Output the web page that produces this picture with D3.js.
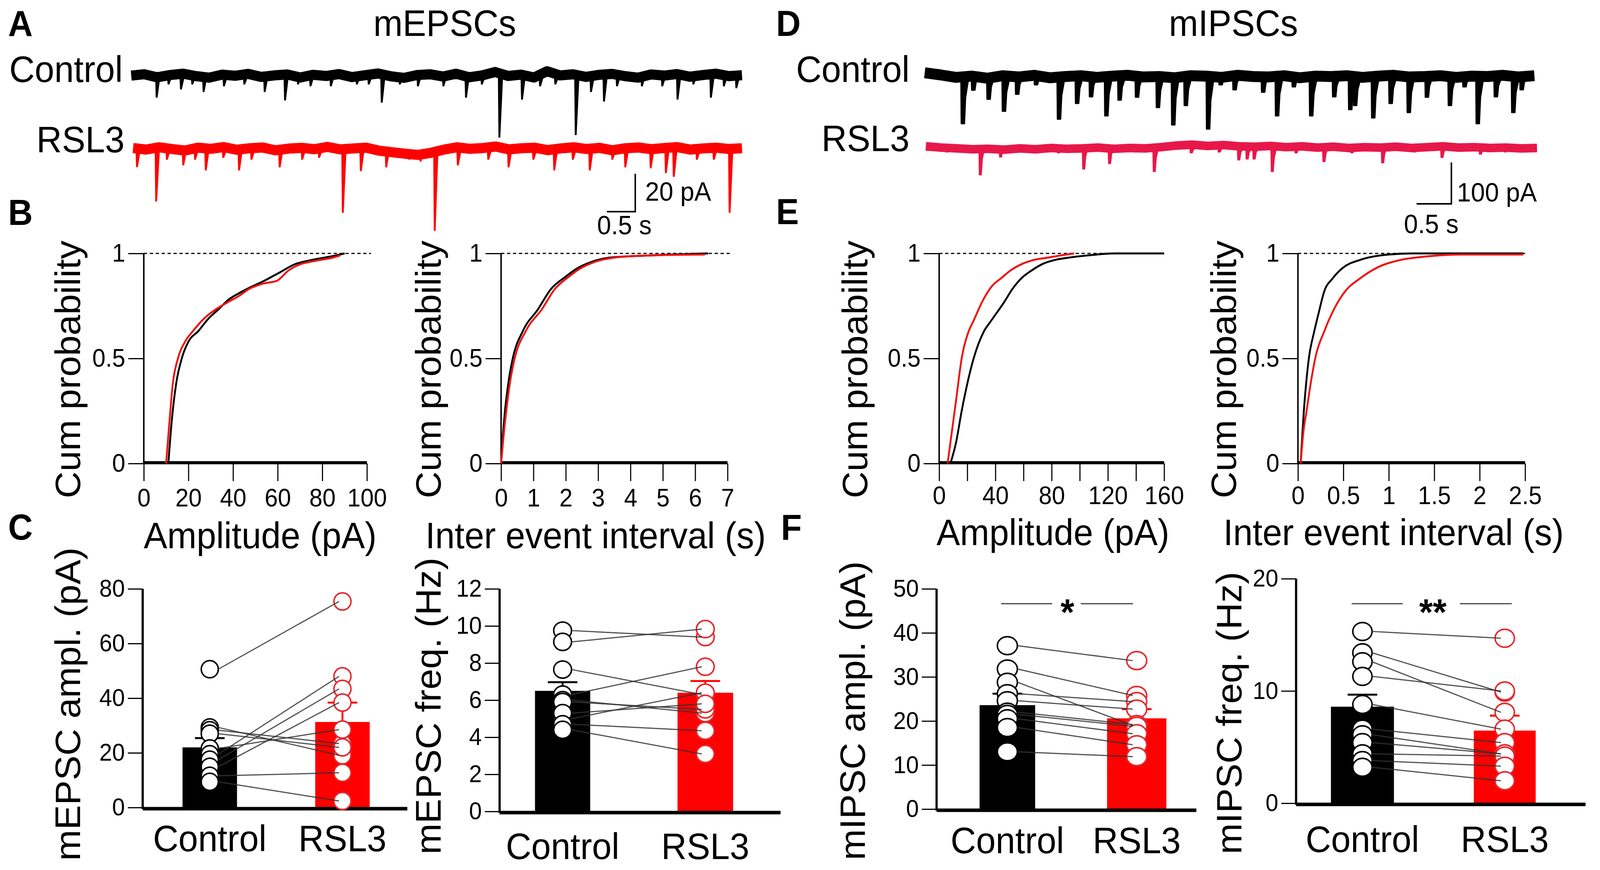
<!DOCTYPE html>
<html lang="en">
<head>
<meta charset="UTF-8">
<title>mEPSCs and mIPSCs, Control vs RSL3</title>
<script src="https://d3js.org/d3.v7.min.js"></script>
<style>
    html, body { margin: 0; padding: 0; background: #fff; overflow: hidden; }
    svg { display: block; width: 100vw; height: 100vh; }
    text { font-family: "Liberation Sans", Arial, sans-serif; fill: #000; }
    .letter { font-weight: bold; font-size: 92px; }
    .big { font-size: 95px; }
    .scale { font-size: 68px; }
</style>
</head>
<body>
<script>
const width = 4317, height = 2228;
const FONT = "'Liberation Sans', Arial, sans-serif";
const RED = "#ff0000";
const CRIMSON = "#e8174a";

// ---------------- data ----------------
const groups = ["Control", "RSL3"];

// A: mEPSC traces, events as [time (s), amplitude (pA)]
const epscCtrlEvents = [[0.45,11],[0.66,4],[0.88,6.6],[1.08,4],[1.28,8],[1.64,5],[2.0,4],[2.36,8],[2.72,12.4],
    [2.95,4],[3.17,5],[3.53,5],[3.99,4],[4.2,4],[4.43,13.6],[4.75,4],[5.07,5],[5.52,5],[5.92,11],[6.2,4],
    [6.51,32],[6.91,12],[7.23,5],[7.5,4],[7.86,30.7],[8.13,8],[8.36,13],[8.59,5],[9.03,5],[9.39,5],
    [9.66,12],[9.94,4],[10.25,11],[10.48,5],[10.7,6]];
const epscRslEvents = [[0.07,8.9],[0.41,27],[0.6,5],[0.89,8],[1.1,5],[1.29,10.6],[1.6,4],[1.88,10.6],
    [2.1,5],[2.6,9],[3.0,5],[3.3,4],[3.72,33],[4.04,11],[4.49,9],[4.9,5],[5.1,6],[5.35,42.5],[5.76,8],
    [6.3,5],[6.66,9],[7.1,5],[7.47,10.6],[7.8,5],[8.1,10.6],[8.5,5],[8.73,9],[9.18,9.5],[9.45,12],
    [9.59,14],[10.0,5],[10.3,5],[10.58,33]];
// baseline wander (pA), evenly spaced along the sweep
const epscCtrlBase = [0.5,1.2,-0.4,0.8,1.5,0.2,-0.6,1.0,0.4,1.4,-0.2,0.6,1.1,-0.5,0.9,0.3,1.3,-0.3,0.7,1.6,
    0.1,-0.7,0.8,1.2,0.0,1.5,-0.4,0.6,2.4,0.3,1.0,-0.5,2.8,0.6,1.2,-0.2,0.9,1.4,0.2,-0.6,1.1,0.5,1.3,-0.1,
    0.8,1.5,0.2,0.7];
const epscRslBase = [1.0,0.2,1.4,0.5,-0.3,1.2,0.6,1.5,0.1,0.9,1.3,-0.2,0.7,1.1,0.4,1.6,0.3,0.8,1.2,-0.4,
    -1.2,-2.0,-2.6,-1.5,0.2,1.4,0.6,1.0,1.8,0.3,0.9,1.2,-0.1,0.8,1.4,0.5,1.1,-0.2,0.9,1.3,0.4,1.0,1.5,0.2,
    0.8,1.2,0.5,0.9];

// D: mIPSC traces
const ipscCtrlEvents = [[0.55,114],[0.7,33],[0.92,55],[1.14,84],[1.33,43],[1.6,20],[1.93,103],[2.19,65],
    [2.39,49],[2.61,95],[2.8,57],[3.05,50],[3.35,75],[3.57,117],[3.75,70],[4.07,127],[4.25,20],[4.45,32],
    [4.86,38],[5.06,95],[5.3,25],[5.55,95],[5.88,49],[6.11,80],[6.18,70],[6.44,100],[6.69,65],[6.95,87],
    [7.21,50],[7.54,70],[7.75,25],[7.94,114],[8.2,49],[8.45,87],[8.57,32]];
const ipscRslEvents = [[0.3,10],[0.78,65],[1.07,22],[1.5,10],[1.9,12],[2.26,51],[2.63,38],[3.0,10],
    [3.27,57],[3.8,12],[4.2,10],[4.48,29],[4.6,27],[4.7,27],[4.96,57],[5.3,12],[5.7,33],[6.1,12],
    [6.54,36],[7.0,10],[7.39,23],[7.94,15],[8.3,10]];
const ipscCtrlBase = [9,4,-2,1,-4,2,-1,3,-3,0,2,-2,1,3,-1,0,-3,2,1,-2,3,0,-1,2,-3,1,0,2,-2,1,3,-1,0,2,
    -2,1,0,3,-1,2];
const ipscRslBase = [4,1,-1,-3,-2,-4,-1,-3,0,-2,-1,1,-2,0,-1,2,6,8,5,7,4,3,5,2,4,1,3,0,2,1,3,0,2,4,1,
    2,0,1,-1,0];

// B: mEPSC cumulative distributions [value, probability]
const epscAmpCumCtrl = [[11,0],[12.5,0.2],[14.5,0.38],[17,0.5],[20,0.58],[24.4,0.63],[29,0.69],[33.5,0.734],
    [38,0.78],[42.6,0.81],[48,0.84],[54,0.87],[61,0.91],[67.6,0.948],[75,0.968],[81,0.98],[86,0.99],[90,1]];
const epscAmpCumRsl = [[10,0],[11.5,0.2],[13,0.38],[15.3,0.5],[18.5,0.58],[22,0.63],[27,0.69],[32.3,0.734],
    [38,0.77],[43,0.8],[47,0.83],[53,0.855],[59.7,0.87],[65,0.92],[70,0.948],[77,0.965],[84.7,0.98],[88,0.99]];
const epscIeiCumCtrl = [[0,0],[0.05,0.12],[0.12,0.25],[0.24,0.4],[0.36,0.5],[0.67,0.63],[1.14,0.734],
    [1.54,0.83],[2.0,0.89],[2.32,0.926],[2.8,0.96],[3.35,0.98],[4.5,0.99],[6.4,1]];
const epscIeiCumRsl = [[0,0],[0.07,0.12],[0.16,0.25],[0.29,0.4],[0.42,0.5],[0.76,0.63],[1.26,0.734],
    [1.66,0.83],[2.1,0.89],[2.42,0.926],[2.9,0.96],[3.5,0.98],[4.5,0.99],[6.3,0.995]];

// E: mIPSC cumulative distributions
const ipscAmpCumCtrl = [[8,0],[12,0.1],[16,0.25],[20,0.38],[24.5,0.5],[31.6,0.626],[37,0.68],[46.4,0.77],
    [52,0.83],[59,0.885],[66,0.92],[73.6,0.95],[83,0.97],[92,0.98],[105,0.99],[125,1],[160,1]];
const ipscAmpCumRsl = [[6,0],[9,0.15],[12,0.3],[16,0.5],[20.8,0.626],[24.5,0.68],[30.6,0.77],[37,0.84],
    [44.6,0.885],[51,0.92],[59,0.95],[68,0.97],[77.3,0.98],[86,0.99],[96,1]];
const ipscIeiCumCtrl = [[0.03,0],[0.05,0.15],[0.065,0.25],[0.09,0.38],[0.12,0.5],[0.18,0.63],[0.23,0.72],
    [0.29,0.82],[0.38,0.88],[0.49,0.93],[0.69,0.97],[0.9,0.99],[1.25,1],[2.48,1]];
const ipscIeiCumRsl = [[0.03,0],[0.06,0.15],[0.095,0.25],[0.14,0.38],[0.19,0.5],[0.29,0.63],[0.38,0.72],
    [0.52,0.82],[0.68,0.88],[0.86,0.93],[1.14,0.97],[1.4,0.985],[1.82,0.995],[2.48,0.995]];

// C: mEPSC per-cell values (paired by index), means and SEM
const epscAmpCtrl = [50.6,29.3,28.3,27,21.6,19.5,17.5,14.9,11.6,9.4];
const epscAmpRsl  = [75.4,19.1,23.4,22,28.5,48,43.4,38.4,12.7,2.4];
const epscAmpMean = [22, 31.3];
const epscAmpSem  = [3.4, 7.1];
const epscFreqCtrl = [9.75,9.14,7.65,6.3,6.0,5.9,5.0,5.3,4.7,4.4];
const epscFreqRsl  = [9.4,9.83,6.3,7.8,5.3,5.5,6.4,5.8,4.35,3.1];
const epscFreqMean = [6.5, 6.4];
const epscFreqSem  = [0.47, 0.63];

// F: mIPSC per-cell values
const ipscAmpCtrl = [37.1,31.8,28.8,26.2,24.6,22,21.5,20.5,18.5,13];
const ipscAmpRsl  = [33.7,25.8,19.0,24.4,22.7,19.2,18.8,17.1,14.6,11.9];
const ipscAmpMean = [23.6, 20.6];
const ipscAmpSem  = [2.6, 2.1];
const ipscFreqCtrl = [15.3,13.4,12.6,11.3,8.8,6.6,6.1,5.4,4.4,3.8,3.2];
const ipscFreqRsl  = [14.7,9.9,8.1,10.0,6.6,5.4,4.4,4.4,4.2,3.3,2.0];
const ipscFreqMean = [8.6, 6.47];
const ipscFreqSem  = [1.07, 1.33];

// tick values
const cumProbTicks = [0, 0.5, 1];
const epscAmpTicks = [0, 20, 40, 60, 80, 100];
const epscIeiTicks = [0, 1, 2, 3, 4, 5, 6, 7];
const ipscAmpTicks = [0, 20, 40, 60, 80, 100, 120, 140, 160];
const ipscIeiTicks = [0, 0.5, 1, 1.5, 2, 2.5];

// ---------------- drawing ----------------
// the figure is laid out on a 4317 x 2228 canvas and stretched to fill the window
const svg = d3.select("body").append("svg")
    .attr("viewBox", `0 0 ${width} ${height}`)
    .attr("preserveAspectRatio", "none");

function label(x, y, txt, cls, anchor) {
    return svg.append("text").attr("class", cls).attr("x", x).attr("y", y)
        .attr("text-anchor", anchor || "start").text(txt);
}

function rotLabel(cx, cy, txt) {
    svg.append("text").attr("class", "big")
        .attr("transform", `translate(${cx + 24},${cy}) rotate(-90)`)
        .attr("text-anchor", "middle").text(txt);
}

// panel letters and titles
label(22, 92, "A", "letter");
label(22, 576, "B", "letter");
label(22, 1382, "C", "letter");
label(2094, 92, "D", "letter");
label(2094, 574, "E", "letter");
label(2107, 1382, "F", "letter");
label(1200, 92, "mEPSCs", "big", "middle");
label(3328, 92, "mIPSCs", "big", "middle");
label(25, 210, "Control", "big");
label(336, 390, "RSL3", "big", "end");
label(2148, 210, "Control", "big");
label(2454, 387, "RSL3", "big", "end");

function drawTrace(t) {
    const x = d3.scaleLinear().domain([0, t.duration]).range(t.xRange);
    const y = d3.scaleLinear().domain([0, 1]).range([t.base, t.base - t.k]);
    const g = svg.append("g");
    const n = t.drift.length;
    const line = d3.line()
        .x((d, i) => x(i * t.duration / (n - 1)))
        .y(d => y(d));
    g.append("path").datum(t.drift)
        .attr("d", line)
        .attr("fill", "none")
        .attr("stroke", t.color)
        .attr("stroke-width", t.band)
        .attr("stroke-linejoin", "round");
    g.selectAll("path.ev")
        .data(t.events)
        .join("path")
        .attr("class", "ev")
        .attr("d", d => {
            const cx = x(d[0]), b = y(0), tip = y(-d[1]);
            return t.shape.map((s, i) => (i ? "L" : "M") + (cx + s[0]) + "," + (b + (tip - b) * s[1])).join("") + "Z";
        })
        .attr("fill", t.color)
        .attr("stroke", t.color)
        .attr("stroke-width", t.evStroke)
        .attr("stroke-linejoin", "round");
    return {x, y};
}

const spikeThin = [[-3, 0], [-1.5, 1], [1.5, 1], [9, 0]];
const spikeWide = [[-6, 0], [-5, 1], [4, 1], [7, 0.45], [16, 0]];
const spikeMid = [[-4, 0], [-3, 1], [3, 1], [6, 0.4], [12, 0]];

const epscScale = drawTrace({events: epscCtrlEvents, drift: epscCtrlBase, duration: 10.8, xRange: [354, 2002],
    base: 196, k: 4.85, color: "#000", band: 26, shape: spikeThin, evStroke: 2});
drawTrace({events: epscRslEvents, drift: epscRslBase, duration: 10.8, xRange: [359, 2002],
    base: 384, k: 4.85, color: RED, band: 26, shape: spikeThin, evStroke: 2});
const ipscScale = drawTrace({events: ipscCtrlEvents, drift: ipscCtrlBase, duration: 8.75, xRange: [2495, 4140],
    base: 196, k: 1.06, color: "#000", band: 28, shape: spikeWide, evStroke: 3});
drawTrace({events: ipscRslEvents, drift: ipscRslBase, duration: 8.75, xRange: [2498, 4147],
    base: 379, k: 1.06, color: CRIMSON, band: 22, shape: spikeMid, evStroke: 2});

function scaleBar(sc, cornerX, cornerY, pA, sec) {
    const h = sc.x(sec) - sc.x(0), v = sc.y(0) - sc.y(pA);
    svg.append("path")
        .attr("d", `M${cornerX - h},${cornerY}H${cornerX}V${cornerY - v}`)
        .attr("fill", "none").attr("stroke", "#000").attr("stroke-width", 4);
}
scaleBar(epscScale, 1714, 542, 20, 0.5);
label(1741, 514, "20 pA", "scale");
label(1611, 600, "0.5 s", "scale");
scaleBar(ipscScale, 3916, 522, 100, 0.5);
label(3931, 516, "100 pA", "scale").attr("font-size", 64);
label(3788, 597, "0.5 s", "scale");

// cumulative probability panels
function drawCum(c) {
    const g = svg.append("g");
    const x = d3.scaleLinear().domain([0, c.xMax]).range(c.xRange);
    const y = d3.scaleLinear().domain([0, 1]).range([1187, 649]);

    g.append("line")
        .attr("x1", x(0)).attr("x2", c.dashEnd)
        .attr("y1", y(1)).attr("y2", y(1))
        .attr("stroke", "#000").attr("stroke-width", 3).attr("stroke-dasharray", "9,7");

    const ya = g.append("g").attr("transform", `translate(${x(0)},0)`)
        .call(d3.axisLeft(y).tickValues(cumProbTicks).tickSize(42).tickPadding(8).tickFormat(d => d));
    const xa = g.append("g").attr("transform", `translate(0,${y(0)})`)
        .call(d3.axisBottom(x).tickValues(c.ticks).tickSize(45).tickPadding(c.pad).tickFormat(c.fmt));
    [ya, xa].forEach(a => {
        a.select(".domain").remove();
        a.attr("font-size", 64).attr("font-family", FONT);
        a.selectAll("line").attr("stroke-width", 3);
        a.selectAll("text").attr("fill", "#000");
    });
    g.append("line").attr("x1", x(0)).attr("x2", x(0)).attr("y1", y(0) + 2).attr("y2", y(1))
        .attr("stroke", "#000").attr("stroke-width", 4);
    g.append("line").attr("x1", x(0) - 2).attr("x2", x(c.xMax)).attr("y1", y(0) - 2).attr("y2", y(0) - 2)
        .attr("stroke", "#000").attr("stroke-width", 8);

    const line = d3.line().x(d => x(d[0])).y(d => y(d[1])).curve(d3.curveMonotoneX);
    [[c.ctrl, "#000"], [c.rsl, "#ee1111"]].forEach(([data, col]) => {
        g.append("path").datum(data).attr("d", line)
            .attr("fill", "none").attr("stroke", col).attr("stroke-width", 5);
    });

    rotLabel(c.yLabelX, 946, "Cum probability");
    label(c.xLabelX, c.xLabelY, c.xLabel, "big", "middle");
}

const plain = d => d;
drawCum({xMax: 100, xRange: [388, 990], dashEnd: 1001, ticks: epscAmpTicks, fmt: plain, pad: 20,
    ctrl: epscAmpCumCtrl, rsl: epscAmpCumRsl, yLabelX: 192, xLabelX: 702, xLabelY: 1404, xLabel: "Amplitude (pA)"});
drawCum({xMax: 7, xRange: [1352, 1963], dashEnd: 1974, ticks: epscIeiTicks, fmt: plain, pad: 20,
    ctrl: epscIeiCumCtrl, rsl: epscIeiCumRsl, yLabelX: 1165, xLabelX: 1607, xLabelY: 1404, xLabel: "Inter event interval (s)"});
drawCum({xMax: 160, xRange: [2534, 3141], dashEnd: 3141, ticks: ipscAmpTicks, fmt: d => d % 40 === 0 ? d : "", pad: 14,
    ctrl: ipscAmpCumCtrl, rsl: ipscAmpCumRsl, yLabelX: 2316, xLabelX: 2841, xLabelY: 1396, xLabel: "Amplitude (pA)"});
drawCum({xMax: 2.5, xRange: [3502, 4115], dashEnd: 4115, ticks: ipscIeiTicks, fmt: plain, pad: 14,
    ctrl: ipscIeiCumCtrl, rsl: ipscIeiCumRsl, yLabelX: 3311, xLabelX: 3760, xLabelY: 1396, xLabel: "Inter event interval (s)"});

// paired bar panels
function drawBars(c) {
    const g = svg.append("g");
    const y = d3.scaleLinear().domain([0, c.yMax]).range(c.yRange);
    const x = d3.scalePoint().domain(groups).range(c.centres);

    const ya = g.append("g").attr("transform", `translate(${c.axisX},0)`)
        .call(d3.axisLeft(y).tickValues(c.ticks).tickSize(40).tickPadding(8));
    ya.select(".domain").remove();
    ya.attr("font-size", 62).attr("font-family", FONT);
    ya.selectAll("line").attr("stroke-width", 3);
    ya.selectAll("text").attr("fill", "#000");
    g.append("line").attr("x1", c.axisX).attr("x2", c.axisX).attr("y1", y(0) + 4).attr("y2", y(c.yMax))
        .attr("stroke", "#000").attr("stroke-width", 6);

    const cols = ["#000", RED];
    g.selectAll("rect.bar").data(groups).join("rect").attr("class", "bar")
        .attr("x", (d, i) => x(d) - c.barW[i] / 2)
        .attr("width", (d, i) => c.barW[i])
        .attr("y", (d, i) => y(c.mean[i]))
        .attr("height", (d, i) => y(0) - y(c.mean[i]))
        .attr("fill", (d, i) => cols[i]);

    g.append("line").attr("x1", c.axisX).attr("x2", c.xEnd).attr("y1", y(0) + 3).attr("y2", y(0) + 3)
        .attr("stroke", "#000").attr("stroke-width", 9);

    groups.forEach((grp, i) => {
        const top = y(c.mean[i] + c.sem[i]);
        g.append("path")
            .attr("d", `M${x(grp)},${y(c.mean[i])}V${top}M${x(grp) - 40},${top}H${x(grp) + 40}`)
            .attr("stroke", cols[i]).attr("stroke-width", 5).attr("fill", "none");
    });

    const strokes = ["#000", "#e8262b"];
    [c.ctrl, c.rsl].forEach((vals, i) => {
        g.selectAll(null).data(vals).join("ellipse")
            .attr("cx", x(groups[i])).attr("cy", d => y(d))
            .attr("rx", c.rx).attr("ry", c.ry)
            .attr("fill", "#fff").attr("stroke", strokes[i]).attr("stroke-width", 4);
    });

    g.selectAll("line.pair").data(c.ctrl).join("line").attr("class", "pair")
        .attr("x1", x(groups[0]) + c.rx).attr("y1", d => y(d))
        .attr("x2", x(groups[1]) - c.rx * 0.4).attr("y2", (d, i) => y(c.rsl[i]))
        .attr("stroke", "#333").attr("stroke-width", 3).attr("stroke-opacity", 0.85);

    groups.forEach(grp => label(x(grp), c.catY, grp, "big", "middle"));
    rotLabel(c.yLabelX, c.yLabelY, c.yLabel);

    if (c.sig) {
        const s = c.sig;
        g.append("path").attr("d", `M${s.l[0]},1546H${s.l[1]}M${s.r[0]},1546H${s.r[1]}`)
            .attr("stroke", "#444").attr("stroke-width", 3);
        label(s.at, 1600, s.mark, "big", "middle").attr("font-weight", "bold").attr("font-size", s.size);
    }
}

drawBars({yMax: 80, yRange: [2068, 1508], ticks: [0, 20, 40, 60, 80], axisX: 385, xEnd: 1099,
    centres: [566, 924], barW: [147, 147], rx: 23, ry: 22,
    mean: epscAmpMean, sem: epscAmpSem, ctrl: epscAmpCtrl, rsl: epscAmpRsl,
    catY: 2180, yLabelX: 192, yLabelY: 1803, yLabel: "mEPSC ampl. (pA)"});
drawBars({yMax: 12, yRange: [2078, 1508], ticks: [0, 2, 4, 6, 8, 10, 12], axisX: 1348, xEnd: 2106,
    centres: [1518, 1903], barW: [149, 150], rx: 24, ry: 22,
    mean: epscFreqMean, sem: epscFreqSem, ctrl: epscFreqCtrl, rsl: epscFreqRsl,
    catY: 2200, yLabelX: 1165, yLabelY: 1808, yLabel: "mEPSC freq. (Hz)"});
drawBars({yMax: 50, yRange: [2072, 1508], ticks: [0, 10, 20, 30, 40, 50], axisX: 2527, xEnd: 3228,
    centres: [2718, 3067], barW: [150, 160], rx: 27, ry: 23,
    mean: ipscAmpMean, sem: ipscAmpSem, ctrl: ipscAmpCtrl, rsl: ipscAmpRsl,
    catY: 2185, yLabelX: 2309, yLabelY: 1820, yLabel: "mIPSC ampl. (pA)",
    sig: {l: [2701, 2839], r: [2916, 3057], at: 2880, mark: "*", size: 100}});
drawBars({yMax: 20, yRange: [2057, 1482], ticks: [0, 10, 20], axisX: 3497, xEnd: 4278,
    centres: [3676, 4060], barW: [170, 167], rx: 26, ry: 23,
    mean: ipscFreqMean, sem: ipscFreqSem, ctrl: ipscFreqCtrl, rsl: ipscFreqRsl,
    catY: 2182, yLabelX: 3325, yLabelY: 1826, yLabel: "mIPSC freq. (Hz)",
    sig: {l: [3647, 3785], r: [3939, 4079], at: 3866, mark: "**", size: 100}});
</script>
</body>
</html>
